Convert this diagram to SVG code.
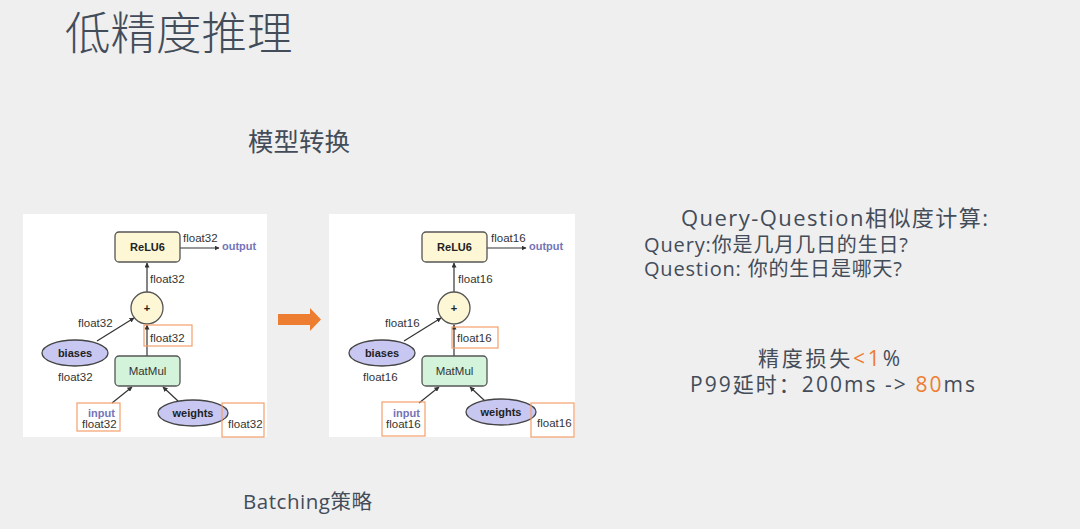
<svg xmlns="http://www.w3.org/2000/svg" width="1080" height="529" viewBox="0 0 1080 529">
<defs>
<marker id="ah" viewBox="0 0 10 10" refX="9" refY="5" markerWidth="5" markerHeight="5" orient="auto" markerUnits="userSpaceOnUse">
<path d="M0,0 L10,5 L0,10 z" fill="#333"/>
</marker>
<style>
.cjk{font-family:"Open Sans","Noto Sans CJK SC",sans-serif;fill:#434c59}
.lbl{font-family:"Liberation Sans",Arial,sans-serif;font-size:11.5px;fill:#333}
.b{font-family:"Liberation Sans",Arial,sans-serif;font-weight:bold;font-size:11px;fill:#222}
.blue{fill:#7474b8}
.rect-y{fill:#fdf7d6;stroke:#555;stroke-width:1.3}
.rect-g{fill:#d3f4da;stroke:#555;stroke-width:1.3}
.ell{fill:#c7c7f2;stroke:#444;stroke-width:1.3}
.ob{fill:none;stroke:#f4a06c;stroke-width:1.2}
.ln{stroke:#333;stroke-width:1.2;fill:none}
.panel{fill:#ffffff}
.or{fill:#ed7d31}
</style>
</defs>
<rect width="1080" height="529" fill="#efefef"/>

<g id="title"><text class="cjk" x="65" y="50" font-size="45.5" font-weight="300">低精度推理</text></g>
<g id="subtitle-model"><text class="cjk" x="248" y="151" font-size="25.5">模型转换</text></g>
<g id="subtitle-batching"><text class="cjk" x="243" y="509" font-size="20.5" textLength="129" lengthAdjust="spacing">Batching策略</text></g>

<g id="panel-left"><rect class="panel" x="23" y="214" width="244" height="223"/></g>
<g id="panel-right"><rect class="panel" x="329" y="214" width="246" height="223"/></g>

<g id="connectors">
<line class="ln" x1="180" y1="248" x2="219" y2="248" marker-end="url(#ah)"/>
<line class="ln" x1="147" y1="292" x2="147" y2="263" marker-end="url(#ah)"/>
<line class="ln" x1="97" y1="341" x2="134" y2="318" marker-end="url(#ah)"/>
<line class="ln" x1="147" y1="356" x2="147" y2="325" marker-end="url(#ah)"/>
<line class="ln" x1="112" y1="403" x2="132" y2="387" marker-end="url(#ah)"/>
<line class="ln" x1="178" y1="401" x2="163" y2="387" marker-end="url(#ah)"/>
<g transform="translate(307,0)">
<line class="ln" x1="180" y1="248" x2="219" y2="248" marker-end="url(#ah)"/>
<line class="ln" x1="147" y1="292" x2="147" y2="263" marker-end="url(#ah)"/>
<line class="ln" x1="97" y1="341" x2="134" y2="318" marker-end="url(#ah)"/>
<line class="ln" x1="147" y1="356" x2="147" y2="325" marker-end="url(#ah)"/>
<line class="ln" x1="112" y1="403" x2="132" y2="387" marker-end="url(#ah)"/>
<line class="ln" x1="178" y1="401" x2="163" y2="387" marker-end="url(#ah)"/>
</g>
<path id="convert-arrow" class="or" d="M278,314 L310,314 L310,308 L321,319.5 L310,331 L310,325 L278,325 z"/>
</g>

<!-- left diagram -->
<g id="L-relu6"><rect class="rect-y" x="115" y="232" width="65" height="30" rx="4"/><text class="b" x="147.5" y="251" text-anchor="middle">ReLU6</text></g>
<g id="L-output"><text class="lbl" x="183" y="242">float32</text><text class="b blue" x="222" y="250" font-size="11.3">output</text></g>
<g id="L-add"><circle class="rect-y" cx="147" cy="308" r="16"/><text class="b" x="147" y="312" text-anchor="middle" font-size="10">+</text><text class="lbl" x="150" y="283">float32</text></g>
<g id="L-biases"><ellipse class="ell" cx="75" cy="353" rx="33" ry="13"/><text class="b" x="75" y="357" text-anchor="middle">biases</text><text class="lbl" x="78" y="327">float32</text><text class="lbl" x="58" y="381">float32</text></g>
<g id="L-matmul"><rect class="rect-g" x="115" y="356" width="65" height="30" rx="4"/><text class="lbl" x="147.5" y="375" text-anchor="middle" font-size="10.5" fill="#222">MatMul</text><rect class="ob" x="144" y="325" width="48" height="21"/><text class="lbl" x="150" y="342">float32</text></g>
<g id="L-input"><rect class="ob" x="77" y="403" width="43" height="28"/><text class="b blue" x="88" y="417">input</text><text class="lbl" x="82" y="428">float32</text></g>
<g id="L-weights"><ellipse class="ell" cx="193" cy="413" rx="35" ry="13"/><text class="b" x="193" y="417" text-anchor="middle">weights</text><rect class="ob" x="222" y="403" width="42" height="34"/><text class="lbl" x="228" y="428">float32</text></g>

<!-- right diagram -->
<g id="R-relu6" transform="translate(307,0)"><rect class="rect-y" x="115" y="232" width="65" height="30" rx="4"/><text class="b" x="147.5" y="251" text-anchor="middle">ReLU6</text></g>
<g id="R-output" transform="translate(307,0)"><text class="lbl" x="184" y="242">float16</text><text class="b blue" x="222" y="250" font-size="11.3">output</text></g>
<g id="R-add" transform="translate(307,0)"><circle class="rect-y" cx="147" cy="308" r="16"/><text class="b" x="147" y="312" text-anchor="middle" font-size="10">+</text><text class="lbl" x="151" y="283">float16</text></g>
<g id="R-biases" transform="translate(307,0)"><ellipse class="ell" cx="75" cy="353" rx="33" ry="13"/><text class="b" x="75" y="357" text-anchor="middle">biases</text><text class="lbl" x="78" y="327">float16</text><text class="lbl" x="56" y="381">float16</text></g>
<g id="R-matmul" transform="translate(307,0)"><rect class="rect-g" x="115" y="356" width="65" height="30" rx="4"/><text class="lbl" x="147.5" y="375" text-anchor="middle" font-size="10.5" fill="#222">MatMul</text><rect class="ob" x="145" y="327" width="46" height="21"/><text class="lbl" x="150" y="342">float16</text></g>
<g id="R-input" transform="translate(307,0)"><rect class="ob" x="75" y="402" width="43" height="34"/><text class="b blue" x="86" y="417">input</text><text class="lbl" x="79" y="428">float16</text></g>
<g id="R-weights" transform="translate(307,0)"><ellipse class="ell" cx="194" cy="412" rx="35" ry="13"/><text class="b" x="194" y="416" text-anchor="middle">weights</text><rect class="ob" x="224" y="403" width="43" height="34"/><text class="lbl" x="230" y="427">float16</text></g>

<g id="query-text">
<text class="cjk" x="681" y="226" font-size="22" textLength="307" lengthAdjust="spacing">Query-Question相似度计算:</text>
<text class="cjk" x="644" y="252" font-size="20" textLength="264" lengthAdjust="spacing">Query:你是几月几日的生日?</text>
<text class="cjk" x="644" y="276" font-size="20" textLength="258" lengthAdjust="spacing">Question: 你的生日是哪天?</text>
</g>
<g id="result-text">
<text class="cjk" x="758" y="366" font-size="21" textLength="142" lengthAdjust="spacing">精度损失<tspan class="or">&lt;1</tspan>%</text>
<text class="cjk" x="690" y="392" font-size="21" textLength="285" lengthAdjust="spacing">P99延时：200ms -&gt; <tspan class="or">80</tspan>ms</text>
</g>
</svg>
